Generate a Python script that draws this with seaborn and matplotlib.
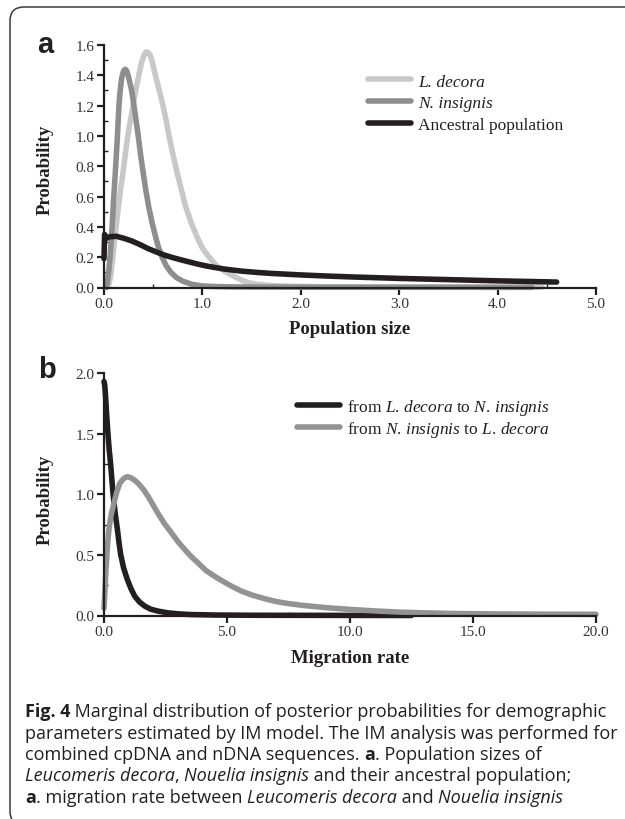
import numpy as np
import pandas as pd
import matplotlib
matplotlib.use("Agg")
import matplotlib.pyplot as plt
import seaborn as sns
from matplotlib.patches import FancyBboxPatch
from matplotlib.ticker import MultipleLocator, FormatStrFormatter

# ---------------- data ----------------
pop_labels = ["L. decora", "N. insignis", "Ancestral population"]
pop_colors = ["#c8c8c8", "#8e8e8e", "#231f20"]

ldec_x = [0.03, 0.05, 0.07, 0.09, 0.108, 0.13, 0.15, 0.17, 0.193, 0.215, 0.237, 0.265,
          0.295, 0.325, 0.36, 0.38, 0.40, 0.415, 0.43, 0.45, 0.47, 0.49, 0.515, 0.55,
          0.60, 0.635, 0.667, 0.70, 0.742, 0.785, 0.827, 0.89, 0.955, 1.0, 1.057,
          1.10, 1.15, 1.19, 1.243, 1.30, 1.40, 1.46, 1.55, 1.65, 1.80, 2.20, 3.00, 4.45]
ldec_y = [0.0, 0.02, 0.09, 0.20, 0.32, 0.44, 0.55, 0.655, 0.76, 0.87, 0.98, 1.09,
          1.20, 1.31, 1.42, 1.48, 1.52, 1.545, 1.555, 1.55, 1.53, 1.49, 1.42, 1.33,
          1.20, 1.09, 0.98, 0.88, 0.76, 0.65, 0.54, 0.42, 0.32, 0.26, 0.21,
          0.175, 0.14, 0.125, 0.10, 0.08, 0.048, 0.033, 0.022, 0.015, 0.010, 0.005,
          0.003, 0.002]

nins_x = [0.02, 0.035, 0.05, 0.062, 0.075, 0.085, 0.095, 0.105, 0.115, 0.125, 0.135,
          0.143, 0.152, 0.16, 0.17, 0.18, 0.19, 0.203, 0.217, 0.23, 0.245, 0.26,
          0.278, 0.30, 0.329, 0.35, 0.373, 0.40, 0.423, 0.455, 0.488, 0.52, 0.549,
          0.59, 0.633, 0.68, 0.735, 0.80, 0.888, 1.0, 1.15, 1.3, 2.0, 4.35]
nins_y = [0.0, 0.04, 0.12, 0.21, 0.32, 0.43, 0.55, 0.655, 0.76, 0.87, 0.98,
          1.09, 1.20, 1.27, 1.33, 1.38, 1.41, 1.433, 1.44, 1.43, 1.40, 1.36,
          1.31, 1.22, 1.09, 0.99, 0.87, 0.75, 0.65, 0.53, 0.43, 0.345, 0.275,
          0.20, 0.143, 0.10, 0.066, 0.042, 0.022, 0.010, 0.006, 0.004, 0.002, 0.001]

anc_x = [0.0, 0.006, 0.02, 0.06, 0.125, 0.2, 0.278, 0.36, 0.447, 0.53, 0.617, 0.70,
         0.786, 0.87, 0.955, 1.04, 1.125, 1.21, 1.294, 1.40, 1.565, 1.7, 1.85, 2.0,
         2.25, 2.5, 2.75, 3.0, 3.5, 4.0, 4.3, 4.6]
anc_y = [0.19, 0.35, 0.325, 0.335, 0.338, 0.325, 0.308, 0.285, 0.257, 0.235, 0.213,
         0.197, 0.182, 0.168, 0.154, 0.142, 0.132, 0.123, 0.116, 0.108, 0.099, 0.093,
         0.088, 0.083, 0.076, 0.070, 0.065, 0.060, 0.052, 0.044, 0.040, 0.036]

mig_labels = [r"from $\mathit{L}$. $\mathit{decora}$ to $\mathit{N}$. $\mathit{insignis}$",
              r"from $\mathit{N}$. $\mathit{insignis}$ to $\mathit{L}$. $\mathit{decora}$"]
mig_colors = ["#231f20", "#939393"]

l2n_x = [0.0, 0.03, 0.06, 0.1, 0.13, 0.16, 0.21, 0.27, 0.32, 0.37, 0.45, 0.545, 0.61,
         0.68, 0.8, 0.95, 1.1, 1.25, 1.45, 1.66, 1.9, 2.2, 2.6, 3.0, 3.5, 4.5, 6.0,
         9.0, 12.5]
l2n_y = [1.93, 1.90, 1.82, 1.68, 1.59, 1.50, 1.37, 1.25, 1.12, 1.00, 0.85, 0.71, 0.60,
         0.50, 0.39, 0.296, 0.22, 0.159, 0.11, 0.077, 0.052, 0.036, 0.022, 0.014,
         0.008, 0.004, 0.002, 0.001, 0.0]

n2l_x = [0.0, 0.025, 0.05, 0.07, 0.095, 0.14, 0.2, 0.25, 0.3, 0.41, 0.52, 0.64, 0.8,
         0.95, 1.1, 1.25, 1.39, 1.6, 1.8, 2.0, 2.2, 2.45, 2.75, 3.0, 3.3, 3.55, 3.84,
         4.15, 4.52, 4.85, 5.2, 5.6, 6.0, 6.5, 7.0, 7.5, 8.0, 9.0, 10.0, 11.0, 12.0,
         13.0, 14.0, 16.0, 18.0, 20.0]
n2l_y = [0.06, 0.15, 0.25, 0.34, 0.43, 0.57, 0.71, 0.78, 0.84, 0.93, 1.02, 1.09, 1.13,
         1.145, 1.135, 1.115, 1.09, 1.04, 0.98, 0.91, 0.84, 0.76, 0.68, 0.61, 0.54,
         0.485, 0.43, 0.37, 0.32, 0.28, 0.24, 0.20, 0.17, 0.14, 0.115, 0.098, 0.085,
         0.065, 0.05, 0.038, 0.028, 0.022, 0.017, 0.013, 0.011, 0.010]

xticks_a = [0, 1, 2, 3, 4, 5]
yticks_a = [0, 0.2, 0.4, 0.6, 0.8, 1.0, 1.2, 1.4, 1.6]
xticks_b = [0, 5, 10, 15, 20]
yticks_b = [0, 0.5, 1.0, 1.5, 2.0]

caption_lines = [
    [("Fig. 4", "bold"), (" Marginal distribution of posterior probabilities for demographic", "normal")],
    [("parameters estimated by IM model. The IM analysis was performed for", "normal")],
    [("combined cpDNA and nDNA sequences. ", "normal"), ("a", "bold"), (". Population sizes of", "normal")],
    [("Leucomeris decora", "italic"), (", ", "normal"), ("Nouelia insignis", "italic"),
     (" and their ancestral population;", "normal")],
    [("a", "bold"), (". migration rate between ", "normal"), ("Leucomeris decora", "italic"),
     (" and ", "normal"), ("Nouelia insignis", "italic")],
]

# ---------------- style ----------------
sns.set_theme(style="ticks")
plt.rcParams["font.family"] = ["Liberation Serif", "DejaVu Serif"]
plt.rcParams["mathtext.fontset"] = "custom"
plt.rcParams["mathtext.rm"] = "Liberation Serif"
plt.rcParams["mathtext.it"] = "Liberation Serif:italic"

W, H = 625, 820
fig = plt.figure(figsize=(W / 100, H / 100), dpi=100)
fig.patch.set_facecolor("white")


def rect(l, r, t, b):
    return [l / W, 1 - b / H, (r - l) / W, (b - t) / H]


axA = fig.add_axes(rect(104, 596, 46, 288.5))
axB = fig.add_axes(rect(104, 596, 374, 616.5))

LW = 4.0
dfA = [pd.DataFrame({"x": ldec_x, "y": ldec_y}),
       pd.DataFrame({"x": nins_x, "y": nins_y}),
       pd.DataFrame({"x": anc_x, "y": anc_y})]
for df, lab, col in zip(dfA, pop_labels, pop_colors):
    sns.lineplot(data=df, x="x", y="y", ax=axA, color=col, linewidth=LW,
                 estimator=None, sort=False, label=lab, solid_capstyle="round",
                 solid_joinstyle="round", clip_on=False)

dfB = [pd.DataFrame({"x": l2n_x, "y": l2n_y}),
       pd.DataFrame({"x": n2l_x, "y": n2l_y})]
for df, lab, col in zip(dfB, mig_labels, mig_colors):
    sns.lineplot(data=df, x="x", y="y", ax=axB, color=col, linewidth=LW,
                 estimator=None, sort=False, label=lab, solid_capstyle="round",
                 solid_joinstyle="round", clip_on=False)


def style_axis(ax, xt, yt, xminor, yminor, xlim, ylim):
    ax.set_xlim(*xlim)
    ax.set_ylim(*ylim)
    ax.set_xticks(xt)
    ax.set_yticks(yt)
    ax.xaxis.set_minor_locator(MultipleLocator(xminor))
    ax.yaxis.set_minor_locator(MultipleLocator(yminor))
    ax.xaxis.set_major_formatter(FormatStrFormatter("%.1f"))
    ax.yaxis.set_major_formatter(FormatStrFormatter("%.1f"))
    for s in ["top", "right"]:
        ax.spines[s].set_visible(False)
    for s in ["left", "bottom"]:
        ax.spines[s].set_linewidth(1.6)
        ax.spines[s].set_color("#231f20")
    ax.tick_params(which="major", direction="out", length=5, width=1.6,
                   color="#231f20", labelsize=11, labelcolor="#333333", pad=2)
    ax.tick_params(which="minor", direction="in", length=3, width=1.0,
                   color="#231f20")
    ax.set_facecolor("white")
    ax.grid(False)


style_axis(axA, xticks_a, yticks_a, 0.5, 0.1, (0, 5), (0, 1.6))
style_axis(axB, xticks_b, yticks_b, 2.5, 0.25, (0, 20), (0, 2.0))

lab_kw = dict(fontsize=13.5, fontweight="bold", color="#231f20")
axA.set_ylabel("Probability", **lab_kw)
axA.set_xlabel("Population size", **lab_kw)
axB.set_ylabel("Probability", **lab_kw)
axB.set_xlabel("Migration rate", **lab_kw)
axA.yaxis.set_label_coords(-0.103, 0.49)
axB.yaxis.set_label_coords(-0.103, 0.48)
axA.xaxis.set_label_coords(0.5, -0.135)
axB.xaxis.set_label_coords(0.5, -0.14)

# legends
hA, lA = axA.get_legend_handles_labels()
legA = axA.legend(hA, lA, loc="upper left", bbox_to_anchor=(0.5366, 0.883),
                  frameon=False, fontsize=12.5, handlelength=2.5, handletextpad=0.4,
                  labelspacing=0.32, borderpad=0, borderaxespad=0)
for t in legA.get_texts()[:2]:
    t.set_fontstyle("italic")
for t in legA.get_texts():
    t.set_color("#231f20")

hB, lB = axB.get_legend_handles_labels()
legB = axB.legend(hB, lB, loc="upper left", bbox_to_anchor=(0.392, 0.9),
                  frameon=False, fontsize=12.5, handlelength=2.5, handletextpad=0.4,
                  labelspacing=0.08, borderpad=0, borderaxespad=0)
for t in legB.get_texts():
    t.set_color("#231f20")

# panel letters
fig.text(45 / W, 1 - 45 / H, "a", fontsize=21, fontweight="bold",
         family=["Liberation Sans"], ha="center", va="center", color="#231f20")
fig.text(47 / W, 1 - 370 / H, "b", fontsize=21, fontweight="bold",
         family=["Liberation Sans"], ha="center", va="center", color="#231f20")

# frame
frame = FancyBboxPatch((10 / 100, -6 / 100), 7.0, (820 - 8 + 6) / 100,
                       boxstyle="round,pad=0,rounding_size=0.14",
                       transform=fig.dpi_scale_trans, facecolor="none",
                       edgecolor="#3a3a3a", linewidth=1.1)
fig.patches.append(frame)

# caption
renderer = fig.canvas.get_renderer()
CAP_FONT = ["Open Sans", "DejaVu Sans"]


def seg_width(text, style, size):
    kw = dict(fontsize=size, family=CAP_FONT)
    if style == "bold":
        kw["fontweight"] = "bold"
    if style == "italic":
        kw["fontstyle"] = "italic"
    t1 = fig.text(0, 0, "|" + text + "|", **kw)
    t2 = fig.text(0, 0, "||", **kw)
    w = t1.get_window_extent(renderer).width - t2.get_window_extent(renderer).width
    t1.remove()
    t2.remove()
    return w


base = 10.0
w1 = sum(seg_width(s, st, base) for s, st in caption_lines[0])
cap_size = base * 585.0 / w1

baselines = [717.5, 738.8, 760.1, 781.4, 802.7]
for line, yb in zip(caption_lines, baselines):
    x = 25.0
    for s, st in line:
        kw = dict(fontsize=cap_size, family=CAP_FONT, color="#231f20",
                  va="baseline", ha="left")
        if st == "bold":
            kw["fontweight"] = "bold"
        if st == "italic":
            kw["fontstyle"] = "italic"
        fig.text(x / W, 1 - yb / H, s, **kw)
        x += seg_width(s, st, cap_size)

fig.savefig("out.png", dpi=100, facecolor="white")
